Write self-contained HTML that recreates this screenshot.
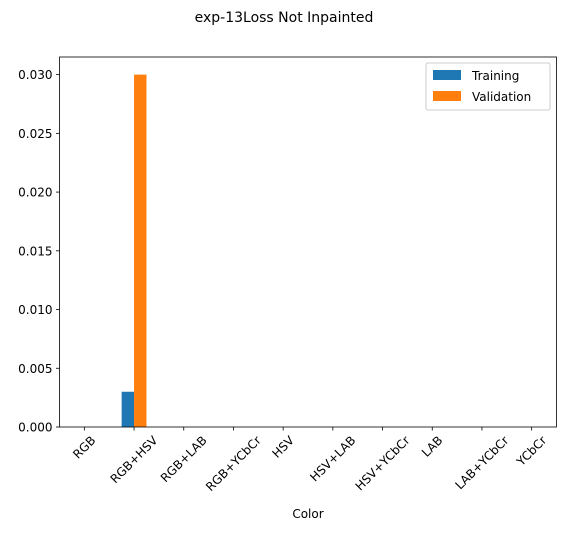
<!DOCTYPE html>
<html><head><meta charset="utf-8"><style>body{margin:0;background:#fff}svg{font-family:"DejaVu Sans","Liberation Sans",sans-serif}</style></head>
<body>
<svg id="c" width="568" height="531" xmlns="http://www.w3.org/2000/svg"></svg>
<script>
const categories=["RGB","RGB+HSV","RGB+LAB","RGB+YCbCr","HSV","HSV+LAB","HSV+YCbCr","LAB","LAB+YCbCr","YCbCr"];
const training=[0,0.003,0,0,0,0,0,0,0,0];
const validation=[0,0.030,0,0,0,0,0,0,0,0];
const yTicks=[0,0.005,0.010,0.015,0.020,0.025,0.030];
const yTickLabels=["0.000","0.005","0.010","0.015","0.020","0.025","0.030"];
const NS="http://www.w3.org/2000/svg",svg=document.getElementById('c');
const L=59.5,R=556.5,T=57,B=427;
const ymax=Math.max(...training,...validation)*1.05||1;
const x=i=>L+(i+0.5)/categories.length*(R-L);
const y=v=>B-v/ymax*(B-T);
const bw=0.25*(R-L)/categories.length;
function el(t,a,p){const e=document.createElementNS(NS,t);for(const k in a)e.setAttribute(k,a[k]);(p||svg).appendChild(e);return e;}
const title=el('text',{x:284,y:22,'text-anchor':'middle','font-size':14});title.textContent='exp-13Loss Not Inpainted';


categories.forEach((c,i)=>{
 const b1=el('rect',{x:x(i)-bw,y:y(training[i]),width:bw,height:B-y(training[i]),fill:'#1f77b4'});
 
 
 const b2=el('rect',{x:x(i),y:y(validation[i]),width:bw,height:B-y(validation[i]),fill:'#ff7f0e'});
 
 
 el('line',{x1:x(i),x2:x(i),y1:B,y2:B+3.5,stroke:'#000','stroke-width':0.8});
 const t=el('text',{x:0,y:0,'text-anchor':'middle','dominant-baseline':'central','font-size':12});
 t.textContent=c;
 const w=t.getComputedTextLength(),h=12;
 const bh=(w+h)*0.7071;
 t.setAttribute('transform',`translate(${x(i)},${B+7+bh/2}) rotate(-45)`);
 
 
});
yTicks.forEach((v,i)=>{
 el('line',{x1:L-3.5,x2:L,y1:y(v),y2:y(v),stroke:'#000','stroke-width':0.8});
 const t=el('text',{x:L-7,y:y(v)+4.5,'text-anchor':'end','font-size':12});t.textContent=yTickLabels[i];
 
 
});
const fr=el('rect',{x:L,y:T,width:R-L,height:B-T,fill:'none',stroke:'#000','stroke-width':0.8});


const xl=el('text',{x:(L+R)/2,y:518,'text-anchor':'middle','font-size':12});xl.textContent='Color';


const g=el('g',{});


el('rect',{x:426,y:63,width:124,height:47,fill:'#fff',stroke:'#ccc',rx:2},g);
el('rect',{x:433,y:70,width:28,height:10,fill:'#1f77b4'},g);
el('rect',{x:433,y:91,width:28,height:10,fill:'#ff7f0e'},g);
const l1=el('text',{x:472,y:80,'font-size':12},g);l1.textContent='Training';
const l2=el('text',{x:472,y:101,'font-size':12},g);l2.textContent='Validation';
</script>
</body></html>
